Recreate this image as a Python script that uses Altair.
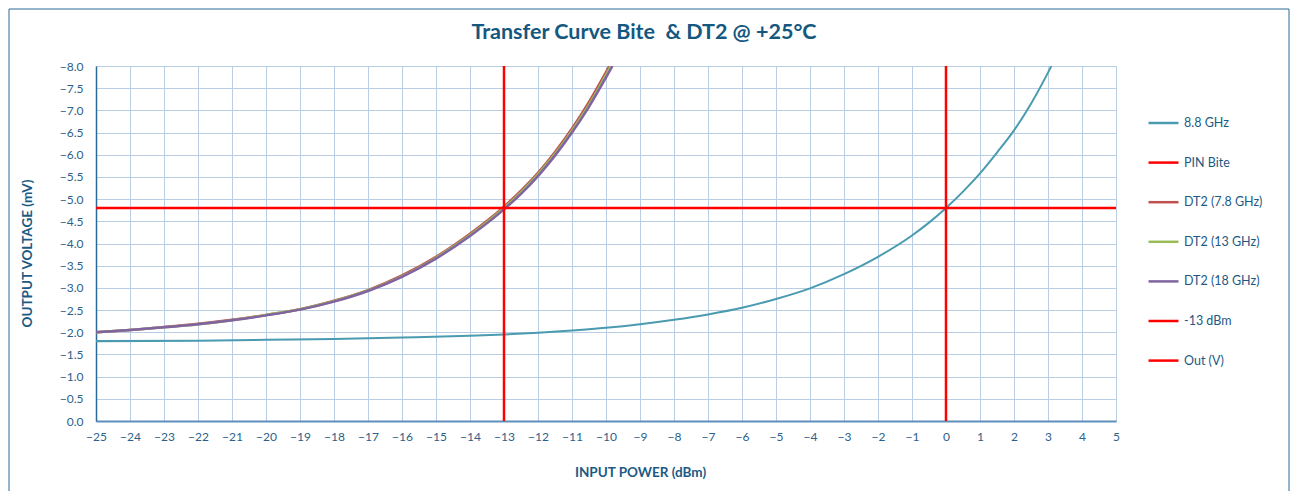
import altair as alt
import pandas as pd

TITLE = "Transfer Curve Bite \u00a0& DT2 @ +25°C"
SERIES = ["8.8 GHz", "PIN Bite", "DT2 (7.8 GHz)", "DT2 (13 GHz)", "DT2 (18 GHz)", "-13 dBm", "Out (V)"]
COLORS = ["#4A9BB0", "#FF0000", "#C0504D", "#9BBB59", "#8064A2", "#FF0000", "#FF0000"]

# 8.8 GHz (Bite) curve
P_88 = [-25, -22, -20, -18, -16, -14, -13, -12, -11, -10, -9, -8, -7, -6, -5, -4, -3, -2, -1, -0.5, 0, 0.5, 1, 1.5, 2, 2.5, 3, 3.1]
V_88 = [-1.80, -1.81, -1.83, -1.85, -1.88, -1.92, -1.95, -1.99, -2.04, -2.10, -2.18, -2.28, -2.40, -2.55, -2.75, -2.99,
        -3.31, -3.70, -4.18, -4.47, -4.80, -5.17, -5.58, -6.05, -6.55, -7.15, -7.85, -8.00]

# DT2 curves
P_DT2 = [-25, -24, -23, -22, -21, -20, -19, -18, -17, -16, -15, -14, -13, -12.5, -12, -11.5, -11, -10.5, -10]
V_DT2_78 = [-2.00, -2.05, -2.12, -2.19, -2.28, -2.39, -2.52, -2.71, -2.95, -3.28, -3.70, -4.22, -4.83, -5.19, -5.59, -6.06, -6.59, -7.19, -7.86]
V_DT2_13 = [-2.00, -2.05, -2.11, -2.18, -2.27, -2.39, -2.52, -2.70, -2.94, -3.26, -3.68, -4.19, -4.80, -5.16, -5.56, -6.02, -6.55, -7.13, -7.80]
V_DT2_18 = [-2.00, -2.05, -2.11, -2.18, -2.27, -2.38, -2.51, -2.69, -2.93, -3.25, -3.66, -4.17, -4.77, -5.12, -5.52, -5.98, -6.50, -7.08, -7.74]
P_END_78, P_END_13, P_END_18 = -9.90, -9.86, -9.81
V_END = -8.00

# Reference lines
PIN_BITE_X = 0
M13_X = -13
OUT_V = -4.8
X_MIN, X_MAX = -25, 5
Y_MIN, Y_MAX = -8.0, 0.0

X_TICKS = list(range(-25, 6))
Y_TICKS = [-8.0, -7.5, -7.0, -6.5, -6.0, -5.5, -5.0, -4.5, -4.0, -3.5, -3.0, -2.5, -2.0, -1.5, -1.0, -0.5, 0.0]

rows = []
def add(series, xs, ys):
    for i, (a, b) in enumerate(zip(xs, ys)):
        rows.append({"series": series, "p": a, "v": b, "ord": i})

add("8.8 GHz", P_88, V_88)
add("DT2 (7.8 GHz)", P_DT2 + [P_END_78], V_DT2_78 + [V_END])
add("DT2 (13 GHz)", P_DT2 + [P_END_13], V_DT2_13 + [V_END])
add("DT2 (18 GHz)", P_DT2 + [P_END_18], V_DT2_18 + [V_END])
add("PIN Bite", [PIN_BITE_X, PIN_BITE_X], [Y_MAX, Y_MIN])
add("-13 dBm", [M13_X, M13_X], [Y_MAX, Y_MIN])
add("Out (V)", [X_MIN, X_MAX], [OUT_V, OUT_V])

df = pd.DataFrame(rows)

FONT = "Lato"
TXT = "#1B5A84"
LBL = "#2D5F8B"

color = alt.Color(
    "series:N",
    scale=alt.Scale(domain=SERIES, range=COLORS),
    legend=alt.Legend(
        title=None, orient="none", legendX=1051, legendY=40.5,
        symbolType="stroke", symbolSize=900, symbolStrokeWidth=2.5,
        rowPadding=16.6, labelOffset=4, labelFont=FONT, labelFontSize=12.5,
        labelColor=TXT, padding=0,
    ),
)

x = alt.X(
    "p:Q",
    scale=alt.Scale(domain=[X_MIN, X_MAX], nice=False, zero=False),
    axis=alt.Axis(
        values=X_TICKS, format="d", title="INPUT POWER (dBm)",
        grid=True, gridColor="#B9CDE5", gridWidth=1,
        ticks=False, tickSize=0, labelPadding=10, labelFlush=False, labelOverlap=False,
        labelFont=FONT, labelFontSize=12, labelColor=LBL,
        domainColor="#5E8FBA", domainWidth=2,
        titleFont=FONT, titleFontSize=13.5, titleFontWeight="bold", titleColor=TXT,
        titleX=544, titleY=51, titleBaseline="middle", titleAlign="center",
    ),
)
y = alt.Y(
    "v:Q",
    scale=alt.Scale(domain=[Y_MIN, Y_MAX], reverse=True, nice=False, zero=False),
    axis=alt.Axis(
        values=Y_TICKS, format=".1f", title="OUTPUT VOLTAGE (mV)",
        grid=True, gridColor="#B9CDE5", gridWidth=1,
        ticks=False, tickSize=0, labelPadding=13, labelOverlap=False,
        labelFont=FONT, labelFontSize=12, labelColor=LBL,
        domainColor="#2B6A96", domainWidth=1.5,
        titleFont=FONT, titleFontSize=13.5, titleFontWeight="bold", titleColor=TXT,
        titleX=-69, titleY=187, titleAngle=-90, titleBaseline="middle", titleAlign="center",
    ),
)

def line(series, width, interp="monotone"):
    return alt.Chart(df).transform_filter(alt.datum.series == series).mark_line(
        strokeWidth=width, clip=True, interpolate=interp
    ).encode(x=x, y=y, color=color, order=alt.Order("ord:Q"))

frame = alt.Chart(alt.Data(values=[{}])).mark_rect(
    fill=None, stroke="#2B6A96", strokeWidth=1, clip=False
).encode(x=alt.value(-87), x2=alt.value(1193), y=alt.value(-57), y2=alt.value(500))

title = alt.Chart(alt.Data(values=[{"t": TITLE}])).mark_text(
    font=FONT, fontSize=21.5, fontWeight="bold", color="#14577F",
    align="center", baseline="middle", clip=False,
).encode(text="t:N", x=alt.value(548), y=alt.value(-33))

chart = alt.layer(
    frame,
    line("8.8 GHz", 2),
    line("DT2 (7.8 GHz)", 2.5),
    line("DT2 (13 GHz)", 2.5),
    line("DT2 (18 GHz)", 2.5),
    line("PIN Bite", 2.5, "linear"),
    line("-13 dBm", 2.5, "linear"),
    line("Out (V)", 2.5, "linear"),
    title,
).properties(
    width=1020, height=355,
    autosize=alt.AutoSizeParams(type="none"),
    padding={"left": 88, "top": 58, "right": 174, "bottom": 70},
).configure_view(
    stroke="#2B6A96", strokeWidth=1.5
).configure(background="white")

chart.save("out.html", embed_options={"renderer": "svg", "actions": False})
